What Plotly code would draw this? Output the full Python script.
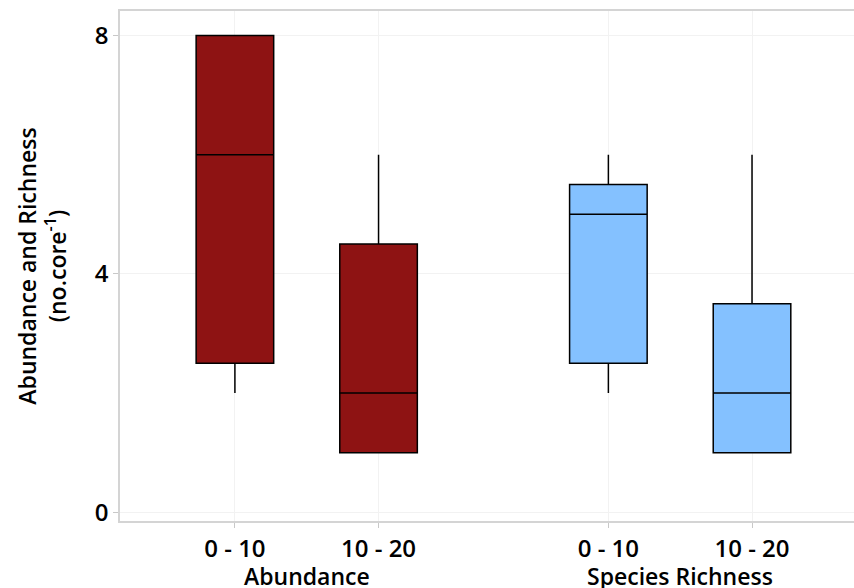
import plotly.graph_objects as go

# ---- data ----
groups = ["Abundance", "Species Richness"]
depths = ["0 - 10", "10 - 20"]
lower_fence = [[2, 1], [2, 1]]
q1_vals = [[2.5, 1], [2.5, 1]]
median_vals = [[6, 2], [5, 2]]
q3_vals = [[8, 4.5], [5.5, 3.5]]
upper_fence = [[8, 6], [6, 6]]
y_ticks = [0, 4, 8]

# ---- style ----
group_colors = ["#8E1313", "#84C1FF"]
GROUP_GAP = 0.6
FONT = "Open Sans"
TICK_SIZE = 24

fig = go.Figure()
tickvals, ticktext, group_centers = [], [], []
for gi, g in enumerate(groups):
    xs = []
    for ci, d in enumerate(depths):
        xpos = gi * (len(depths) + GROUP_GAP) + ci
        xs.append(xpos)
        tickvals.append(xpos)
        ticktext.append(d)
        fig.add_trace(go.Box(
            x=[xpos],
            lowerfence=[lower_fence[gi][ci]],
            q1=[q1_vals[gi][ci]],
            median=[median_vals[gi][ci]],
            q3=[q3_vals[gi][ci]],
            upperfence=[upper_fence[gi][ci]],
            width=0.54,
            fillcolor=group_colors[gi],
            line=dict(color="black", width=1.5),
            whiskerwidth=0,
            boxpoints=False,
            showlegend=False,
            name=f"{g} {d}",
        ))
    group_centers.append(sum(xs) / len(xs))

for gc, g in zip(group_centers, groups):
    fig.add_annotation(
        x=gc, y=0, xref="x", yref="paper", yanchor="top", yshift=-37,
        text=g, showarrow=False,
        font=dict(family=FONT, size=23, color="black", weight=600),
    )

fig.update_layout(
    width=854, height=588,
    margin=dict(l=120, r=0, t=11, b=67),
    plot_bgcolor="white", paper_bgcolor="white",
    font=dict(family=FONT, size=TICK_SIZE, color="black", weight=600),
)
fig.update_xaxes(
    range=[-0.8, 4.31],
    tickvals=tickvals, ticktext=ticktext,
    showgrid=True, gridcolor="#f2f2f2", gridwidth=1,
    showline=True, linecolor="#d4d4d4", linewidth=1.5, mirror=True,
    ticks="outside", ticklen=5, tickcolor="#c8c8c8",
    zeroline=False,
    tickfont=dict(family=FONT, size=TICK_SIZE, color="black", weight=600),
)
fig.update_yaxes(
    range=[-0.146, 8.41],
    tickvals=y_ticks,
    showgrid=True, gridcolor="#f2f2f2", gridwidth=1,
    showline=True, linecolor="#d4d4d4", linewidth=1.5,
    ticks="outside", ticklen=5, tickcolor="#c8c8c8",
    zeroline=False,
    tickfont=dict(family=FONT, size=TICK_SIZE, color="black", weight=600),
    title=dict(text="Abundance and Richness<br>(no.core<sup>-1</sup>)",
               font=dict(family=FONT, size=23, color="black", weight=600),
               standoff=22),
)

fig.write_html("out.html",
               config={"displayModeBar": False},
               post_script="document.body.style.margin='0';document.body.style.padding='0';")
